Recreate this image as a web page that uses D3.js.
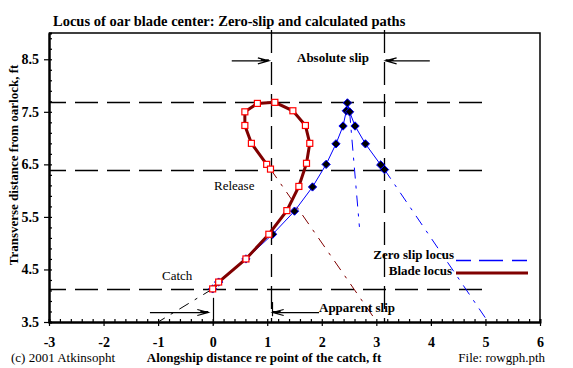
<!DOCTYPE html>
<html>
<head>
<meta charset="utf-8">
<script src="https://cdn.jsdelivr.net/npm/d3@7"></script>
<style>
  body { margin: 0; background: #fff; }
  text { font-family: "Liberation Serif", "Times New Roman", serif; }
</style>
</head>
<body>
<script>
// blade locus (calculated path), alongship x / transverse y, ft
const bladeX = [0, 0.11, 0.61, 1.03, 1.36, 1.58, 1.72, 1.78, 1.70, 1.47, 1.14, 0.82, 0.59, 0.59, 0.71, 0.99, 1.06]
const bladeY = [4.13, 4.26, 4.70, 5.17, 5.62, 6.08, 6.52, 6.90, 7.24, 7.52, 7.68, 7.66, 7.50, 7.24, 6.90, 6.50, 6.41]

// zero slip locus
const zeroX = [0, 0.11, 0.61, 1.10, 1.50, 1.83, 2.08, 2.26, 2.39, 2.45, 2.47, 2.51, 2.61, 2.80, 3.08, 3.15]
const zeroY = [4.13, 4.26, 4.70, 5.17, 5.61, 6.07, 6.50, 6.89, 7.23, 7.52, 7.67, 7.50, 7.23, 6.89, 6.49, 6.40]

// thin dashed continuations [x0, y0, x1, y1, colour]
const extensions = [
  [1.06, 6.41, 3.01, 3.5, "#800000"],
  [3.15, 6.40, 5.05, 3.5, "#0000ff"],
  [2.51, 7.50, 2.69, 5.31, "#0000ff"],
  [0, 4.13, -1.0, 3.5, "#000"]
]

// reference lines
const hLines = [7.68, 6.40, 4.13]
const vLines = [1.07, 3.14]

const xMajor = [-3, -2, -1, 0, 1, 2, 3, 4, 5, 6]
const yMajor = [3.5, 4.5, 5.5, 6.5, 7.5, 8.5]

const W = 573, H = 368
const x = d3.scaleLinear().domain([-3, 6]).range([49, 540])
const y = d3.scaleLinear().domain([3.5, 9]).range([322, 33])

const svg = d3.select("body").append("svg")
  .attr("width", W).attr("height", H)

svg.append("text")
  .attr("x", 53).attr("y", 26)
  .attr("font-size", 14.5).attr("font-weight", "bold")
  .text("Locus of oar blade center: Zero-slip and calculated paths")

// frame top / right
svg.append("path")
  .attr("d", `M${x(-3)},${y(9)}H${x(6)}V${y(3.5)}`)
  .attr("fill", "none").attr("stroke", "#000").attr("stroke-width", 1.5)

// dashed reference lines
const refs = svg.append("g").attr("stroke", "#000").attr("stroke-width", 1.3)
  .attr("stroke-dasharray", "23,9")
refs.selectAll(".h").data(hLines).join("line")
  .attr("x1", x(-3)).attr("x2", x(4.95))
  .attr("y1", d => Math.round(y(d)) + 0.5).attr("y2", d => Math.round(y(d)) + 0.5)
  .attr("stroke-dashoffset", 6)
refs.selectAll(".v").data(vLines).join("line")
  .attr("x1", d => Math.round(x(d)) + 0.5).attr("x2", d => Math.round(x(d)) + 0.5)
  .attr("y1", 30).attr("y2", y(3.5))

// extensions
svg.append("g").selectAll("line").data(extensions).join("line")
  .attr("x1", d => x(d[0])).attr("y1", d => y(d[1]))
  .attr("x2", d => x(d[2])).attr("y2", d => y(d[3]))
  .attr("stroke", d => d[4]).attr("stroke-width", 1)
  .attr("stroke-dasharray", "11,7,3,7")

// zero slip locus
const line = d3.line().x(d => x(d[0])).y(d => y(d[1]))
const zeroPts = zeroX.map((v, i) => [v, zeroY[i]])
svg.append("path").datum(zeroPts)
  .attr("d", line).attr("fill", "none")
  .attr("stroke", "#0000ff").attr("stroke-width", 1)
svg.append("g").selectAll("path").data(zeroPts).join("path")
  .attr("d", d3.symbol(d3.symbolDiamond2, 44))
  .attr("transform", d => `translate(${x(d[0])},${y(d[1])})`)
  .attr("fill", "#000").attr("stroke", "#0000ff").attr("stroke-width", 1)

// blade locus
const bladePts = bladeX.map((v, i) => [v, bladeY[i]])
svg.append("path").datum(bladePts)
  .attr("d", line).attr("fill", "none")
  .attr("stroke", "#800000").attr("stroke-width", 3)
svg.append("g").selectAll("rect").data(bladePts).join("rect")
  .attr("x", d => x(d[0]) - 3).attr("y", d => y(d[1]) - 3)
  .attr("width", 6).attr("height", 6)
  .attr("fill", "#fff").attr("stroke", "#ff0000").attr("stroke-width", 1.2)

// axes
const xAxis = svg.append("g").attr("transform", `translate(0,${y(3.5)})`)
  .call(d3.axisBottom(x).tickValues(xMajor).tickSize(4).tickPadding(11).tickSizeOuter(0)
    .tickFormat(d => String(d)))
xAxis.append("g").call(d3.axisTop(x).tickValues(d3.range(-3, 6.01, 0.2)).tickSize(3).tickFormat(""))
const yAxis = svg.append("g").attr("transform", `translate(${x(-3)},0)`)
  .call(d3.axisLeft(y).tickValues(yMajor).tickSize(5).tickPadding(5).tickSizeOuter(0).tickFormat(d3.format(".1f")))
yAxis.append("g").call(d3.axisRight(y).tickValues(d3.range(3.5, 9.01, 0.2)).tickSize(3).tickFormat(""))
for (const a of [xAxis, yAxis]) {
  a.attr("font-family", null).attr("font-size", null)
  a.selectAll(".domain").attr("stroke-width", 2)
  a.selectAll("line").attr("stroke-width", 1.2)
  a.selectAll("text").attr("font-size", 14)
    .attr("font-weight", "bold").attr("fill", "#000")
}

// slip arrows
function arrow(x0, x1, yv) {
  const yy = y(yv), dir = x1 > x0 ? 1 : -1, tx = x(x1)
  svg.append("path")
    .attr("d", `M${x(x0)},${yy}H${tx}M${tx - dir * 11},${yy - 3}L${tx},${yy}L${tx - dir * 11},${yy + 3}M${tx - dir * 8},${yy - 1}H${tx}`)
    .attr("fill", "none").attr("stroke", "#000").attr("stroke-width", 1.2)
}
arrow(0.35, 1.03, 8.47)
arrow(3.98, 3.17, 8.47)
arrow(-1.15, -0.08, 3.68)
arrow(1.95, 1.10, 3.68)
svg.append("g").attr("stroke", "#000").attr("stroke-width", 1.2)
  .selectAll("line").data([[0, 3.96, 3.45], [1.08, 3.88, 3.61]]).join("line")
  .attr("x1", d => Math.round(x(d[0])) + 0.5).attr("x2", d => Math.round(x(d[0])) + 0.5)
  .attr("y1", d => y(d[1])).attr("y2", d => y(d[2]))

const lab = (tx, ty, s, bold, anchor = "start") => svg.append("text")
  .attr("x", tx).attr("y", ty).attr("font-size", 13)
  .attr("font-weight", bold ? "bold" : "normal").attr("text-anchor", anchor).text(s)
lab(297, 62, "Absolute slip", true)
lab(319, 312, "Apparent slip", true)
lab(214, 190, "Release", false)
lab(162, 280, "Catch", false)
lab(454, 259, "Zero slip locus", true, "end")
lab(452, 275, "Blade locus", true, "end")
lab(11, 362, "(c) 2001 Atkinsopht", false)
lab(264, 362, "Alongship distance re point of the catch, ft", true, "middle")
lab(545, 362, "File: rowgph.pth", false, "end")
svg.append("text")
  .attr("transform", `translate(18,165) rotate(-90)`)
  .attr("text-anchor", "middle").attr("font-size", 13).attr("font-weight", "bold")
  .text("Transverse distance from oarlock, ft")

// legend lines
svg.append("line").attr("x1", 456).attr("x2", 528).attr("y1", 260.5).attr("y2", 260.5)
  .attr("stroke", "#0000ff").attr("stroke-width", 1.3).attr("stroke-dasharray", "15,8,24,9")
svg.append("line").attr("x1", 456).attr("x2", 528).attr("y1", 273).attr("y2", 273)
  .attr("stroke", "#800000").attr("stroke-width", 3)
</script>
</body>
</html>
